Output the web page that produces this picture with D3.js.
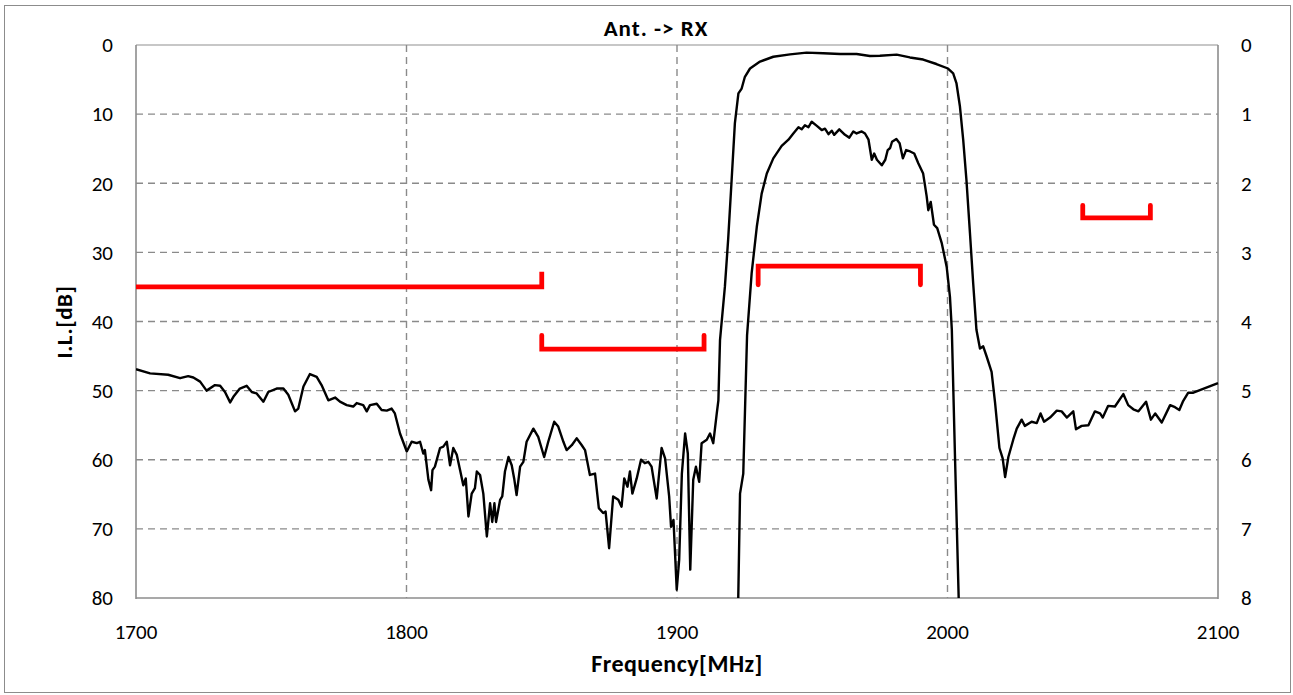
<!DOCTYPE html>
<html>
<head>
<meta charset="utf-8">
<script src="https://cdn.jsdelivr.net/npm/d3@7"></script>
<style>
  html, body { margin: 0; padding: 0; background: #fff; }
  svg { display: block; }
  text { font-family: Carlito, Calibri, Lato, "Liberation Sans", sans-serif; fill: #000; }
</style>
</head>
<body>
<svg id="chart" width="1293" height="695"></svg>
<script>
// ---------------- DATA ----------------
const chartTitle = "Ant. -> RX";
const xTitle = "Frequency[MHz]";
const yTitle = "I.L.[dB]";

const xTicks = [1700, 1800, 1900, 2000, 2100];
const yLeftTicks = [0, 10, 20, 30, 40, 50, 60, 70, 80];
const yRightTicks = [0, 1, 2, 3, 4, 5, 6, 7, 8];

// Wideband trace (left axis, dB)
const wideFreq = [1700, 1705.2, 1711.9, 1716.3, 1719.3, 1721.2, 1723.7, 1726.1, 1729.2, 1731.1, 1732.9, 1734.8, 1736.0, 1738.4, 1740.9, 1742.8, 1744.6, 1747.1, 1748.9, 1752.0, 1754.5, 1756.3, 1758.8, 1760.0, 1761.9, 1764.3, 1766.8, 1768.6, 1771.1, 1773.6, 1775.4, 1777.9, 1780.3, 1781.6, 1784.0, 1785.3, 1786.5, 1789.0, 1790.8, 1792.7, 1794.5, 1795.7, 1797.6, 1800.1, 1801.9, 1803.8, 1805.0, 1806.2, 1806.8, 1808.1, 1809.1, 1809.6, 1810.5, 1812.4, 1813.6, 1814.9, 1816.1, 1817.3, 1818.6, 1819.8, 1821.0, 1821.9, 1822.9, 1824.1, 1825.3, 1826.0, 1827.2, 1828.4, 1829.7, 1830.9, 1831.7, 1832.5, 1833.1, 1834.6, 1835.4, 1836.4, 1837.7, 1838.9, 1839.8, 1840.7, 1842.0, 1843.2, 1844.4, 1846.9, 1848.7, 1850.9, 1852.4, 1854.6, 1856.1, 1858.0, 1859.2, 1861.1, 1862.9, 1864.8, 1866.0, 1867.8, 1869.7, 1871.1, 1872.7, 1873.6, 1874.9, 1876.4, 1878.3, 1879.5, 1880.5, 1881.7, 1882.6, 1883.5, 1885.1, 1886.7, 1888.1, 1889.4, 1890.6, 1892.5, 1894.3, 1895.6, 1897.1, 1897.8, 1898.7, 1899.9, 1900.8, 1901.8, 1903.0, 1904.0, 1904.9, 1906.0, 1907.0, 1908.2, 1909.1, 1911.0, 1912.2, 1913.4, 1914.7, 1915.3, 1915.9, 1917.7, 1918.9, 1920.2, 1921.4, 1922.7, 1923.9, 1925.1, 1927.0, 1930.7, 1935.6, 1941.8, 1947.9, 1954.1, 1960.3, 1966.4, 1971.3, 1975.0, 1981.2, 1986.1, 1991.0, 1995.9, 2000.2, 2002.1, 2003.3, 2004.6, 2005.8, 2007.0, 2008.3, 2009.5, 2010.7, 2012.0, 2013.2, 2014.5, 2016.3, 2017.6, 2019.2, 2020.4, 2021.3, 2022.5, 2024.3, 2025.6, 2027.4, 2028.6, 2031.1, 2033.0, 2034.4, 2035.7, 2037.9, 2040.4, 2042.2, 2044.1, 2046.5, 2047.5, 2049.6, 2052.1, 2054.5, 2056.4, 2057.4, 2059.4, 2061.9, 2065.0, 2066.8, 2068.7, 2070.6, 2073.4, 2075.2, 2076.8, 2079.2, 2082.3, 2084.1, 2085.7, 2087.0, 2089.0, 2090.9, 2100];
const wideIL = [46.9, 47.5, 47.7, 48.2, 47.9, 48.1, 48.7, 50.0, 49.2, 49.3, 50.2, 51.7, 50.9, 49.7, 49.3, 50.2, 50.4, 51.6, 50.2, 49.7, 49.7, 50.6, 53.0, 52.6, 49.4, 47.6, 48.0, 49.2, 51.4, 51.0, 51.6, 52.1, 52.3, 51.8, 52.1, 53.0, 52.1, 51.9, 52.8, 52.9, 52.6, 53.3, 56.2, 58.8, 57.4, 57.6, 57.4, 59.1, 58.6, 62.9, 64.4, 61.5, 61.0, 58.3, 58.1, 57.4, 60.8, 58.3, 59.3, 61.5, 63.7, 62.7, 68.2, 64.9, 64.1, 61.7, 62.2, 64.9, 71.1, 66.3, 69.0, 66.3, 69.0, 65.8, 65.3, 61.7, 59.6, 60.8, 62.7, 65.1, 61.0, 60.3, 57.4, 55.5, 56.7, 59.6, 57.4, 54.5, 55.2, 57.4, 58.6, 57.9, 56.9, 57.9, 58.6, 62.2, 62.0, 67.0, 67.7, 67.5, 72.8, 65.3, 65.8, 66.8, 62.7, 63.9, 61.7, 64.9, 62.7, 60.0, 60.5, 60.3, 61.0, 65.6, 58.3, 59.8, 65.3, 69.7, 68.7, 78.8, 74.5, 62.0, 56.2, 59.1, 75.9, 62.9, 61.0, 63.2, 57.6, 57.1, 56.2, 57.6, 53.3, 51.4, 42.7, 35.0, 28.2, 19.5, 11.3, 7.0, 6.3, 4.6, 3.4, 2.4, 1.7, 1.35, 1.1, 1.2, 1.3, 1.3, 1.6, 1.55, 1.4, 1.8, 2.1, 2.75, 3.4, 4.1, 5.5, 8.9, 13.7, 19.5, 27.2, 34.5, 41.2, 43.9, 43.6, 45.1, 47.3, 51.8, 58.3, 59.8, 62.5, 59.6, 57.1, 55.5, 54.2, 55.1, 54.5, 54.7, 53.3, 54.5, 53.9, 52.9, 53.0, 53.9, 53.0, 55.6, 55.1, 55.0, 53.0, 53.3, 53.9, 52.2, 52.3, 50.5, 52.1, 52.7, 53.0, 51.6, 54.2, 53.3, 54.6, 52.1, 52.4, 52.8, 51.6, 50.3, 50.3, 48.9];

// Passband zoom trace (right axis, dB)
const passFreq = [1922.6, 1923.3, 1924.5, 1925.9, 1927.6, 1929.5, 1931.3, 1933.2, 1935.6, 1938.7, 1941.2, 1943.0, 1944.9, 1946.1, 1947.3, 1948.6, 1949.8, 1951.7, 1953.5, 1954.7, 1956.0, 1957.2, 1958.1, 1960.0, 1962.1, 1963.7, 1965.2, 1966.4, 1968.3, 1969.5, 1970.8, 1972.0, 1972.9, 1973.9, 1975.7, 1977.0, 1977.9, 1978.8, 1979.5, 1981.1, 1982.3, 1983.5, 1984.7, 1986.2, 1987.7, 1989.2, 1991.0, 1992.3, 1992.9, 1993.8, 1995.0, 1996.2, 1997.9, 1999.7, 2000.9, 2001.6, 2002.8, 2004.2];
const passIL = [8.1, 6.49, 6.2, 4.2, 3.30, 2.63, 2.15, 1.86, 1.64, 1.46, 1.37, 1.28, 1.19, 1.22, 1.16, 1.19, 1.11, 1.17, 1.23, 1.21, 1.29, 1.24, 1.30, 1.22, 1.30, 1.34, 1.25, 1.28, 1.25, 1.28, 1.37, 1.66, 1.57, 1.66, 1.74, 1.66, 1.52, 1.49, 1.40, 1.36, 1.42, 1.64, 1.52, 1.54, 1.57, 1.71, 1.86, 2.19, 2.39, 2.27, 2.60, 2.65, 2.87, 3.21, 3.64, 4.12, 6.0, 8.1];

// Specification brackets
const specStart = [1700, 1850, 1930, 2050];
const specEnd = [1850, 1910, 1990, 2075];
const specAxis = ["L", "L", "R", "L"];
const specLevel = [35, 44, 3.2, 25];
const specTickTo = [32.8, 42, 3.47, 23.2];
const specLeftTick = [false, true, true, true];

// ---------------- CHART ----------------
const svg = d3.select("#chart");
const plot = { left: 136, right: 1218, top: 45, bottom: 598 };

const x = d3.scaleLinear().domain([1700, 2100]).range([plot.left, plot.right]);
const yL = d3.scaleLinear().domain([0, 80]).range([plot.top, plot.bottom]);
const yR = d3.scaleLinear().domain([0, 8]).range([plot.top, plot.bottom]);

// outer border
svg.append("rect").attr("x", 4.5).attr("y", 5.5).attr("width", 1286).attr("height", 687)
  .attr("fill", "#fff").attr("stroke", "#8c8c8c").attr("stroke-width", 1);

const gridColor = "#8a8a8a";
const dash = "7,5";

// horizontal grid
svg.append("g").selectAll("line").data(yLeftTicks.filter(d => d !== 80)).join("line")
  .attr("x1", plot.left).attr("x2", plot.right)
  .attr("y1", d => yL(d)).attr("y2", d => yL(d))
  .attr("stroke", d => d === 0 ? "#b4b4b4" : gridColor)
  .attr("stroke-width", 1.4)
  .attr("stroke-dasharray", d => d === 0 ? null : dash);

// vertical grid
svg.append("g").selectAll("line").data(xTicks.filter(d => d !== 1700 && d !== 2100)).join("line")
  .attr("x1", d => x(d)).attr("x2", d => x(d))
  .attr("y1", plot.top).attr("y2", plot.bottom)
  .attr("stroke", gridColor).attr("stroke-width", 1.4)
  .attr("stroke-dasharray", dash);

// axis lines
const axisColor = "#8c8c8c";
svg.append("line").attr("x1", plot.left).attr("x2", plot.left).attr("y1", plot.top).attr("y2", plot.bottom + 1)
  .attr("stroke", axisColor).attr("stroke-width", 1.6);
svg.append("line").attr("x1", plot.right).attr("x2", plot.right).attr("y1", plot.top).attr("y2", plot.bottom + 1)
  .attr("stroke", axisColor).attr("stroke-width", 1.6);
svg.append("line").attr("x1", plot.left).attr("x2", plot.right).attr("y1", plot.bottom).attr("y2", plot.bottom)
  .attr("stroke", axisColor).attr("stroke-width", 1.6);

// clip
svg.append("defs").append("clipPath").attr("id", "clip")
  .append("rect").attr("x", plot.left).attr("y", plot.top - 2)
  .attr("width", plot.right - plot.left + 2).attr("height", plot.bottom - plot.top + 2);

const g = svg.append("g").attr("clip-path", "url(#clip)");

// traces
const wideData = wideFreq.map((f, i) => [f, wideIL[i]]);
const passData = passFreq.map((f, i) => [f, passIL[i]]);

g.append("path").datum(wideData)
  .attr("d", d3.line().x(d => x(d[0])).y(d => yL(d[1])))
  .attr("fill", "none").attr("stroke", "#000").attr("stroke-width", 2.4)
  .attr("stroke-linejoin", "round");

g.append("path").datum(passData)
  .attr("d", d3.line().x(d => x(d[0])).y(d => yR(d[1])))
  .attr("fill", "none").attr("stroke", "#000").attr("stroke-width", 2.4)
  .attr("stroke-linejoin", "round");

// spec brackets
const specG = svg.append("g");
specStart.forEach((s, i) => {
  const ys = specAxis[i] === "L" ? yL : yR;
  const y0 = ys(specLevel[i]), y1 = ys(specTickTo[i]);
  const x0 = x(s), x1 = x(specEnd[i]);
  let pts = [];
  if (specLeftTick[i]) pts.push([x0, y1]);
  pts.push([x0, y0], [x1, y0], [x1, y1]);
  specG.append("path")
    .attr("d", d3.line()(pts))
    .attr("fill", "none").attr("stroke", "#ff0000").attr("stroke-width", 4.8)
    .attr("stroke-linecap", specLeftTick[i] ? "round" : "butt").attr("stroke-linejoin", "miter");
});

// tick labels
const fs = 21;
svg.append("g").selectAll("text").data(yLeftTicks).join("text")
  .attr("x", 113).attr("y", d => yL(d)).attr("dy", "0.35em")
  .attr("text-anchor", "end").attr("font-size", fs).text(d => d);

svg.append("g").selectAll("text").data(yRightTicks).join("text")
  .attr("x", 1241).attr("y", d => yR(d)).attr("dy", "0.35em")
  .attr("text-anchor", "start").attr("font-size", fs).text(d => d);

svg.append("g").selectAll("text").data(xTicks).join("text")
  .attr("x", d => x(d)).attr("y", 632).attr("dy", "0.35em")
  .attr("text-anchor", "middle").attr("font-size", fs).text(d => d);

// titles
svg.append("text").attr("x", 656).attr("y", 28).attr("dy", "0.35em")
  .attr("text-anchor", "middle").attr("font-size", 23).attr("letter-spacing", 1)
  .attr("font-weight", "bold").text(chartTitle);

svg.append("text").attr("x", 677).attr("y", 664).attr("dy", "0.35em")
  .attr("text-anchor", "middle").attr("font-size", 24).attr("letter-spacing", 0.5)
  .attr("font-weight", "bold").text(xTitle);

svg.append("text").attr("transform", "translate(64,322) rotate(-90)").attr("dy", "0.35em")
  .attr("text-anchor", "middle").attr("font-size", 23).attr("letter-spacing", 0.5)
  .attr("font-weight", "bold").text(yTitle);
</script>
</body>
</html>
